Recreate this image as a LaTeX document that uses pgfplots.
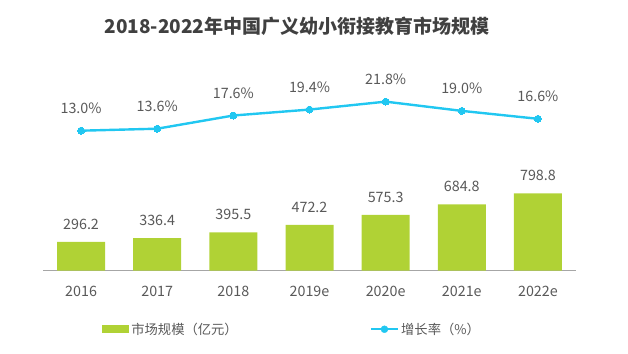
\documentclass[border=0pt]{standalone}
\usepackage{pgfplots}
\pgfplotsset{compat=1.18}
\usepackage{fontspec}
\setmainfont{Noto Sans CJK SC}
\definecolor{bargreen}{HTML}{B0D235}
\definecolor{linecyan}{HTML}{21C7F1}
\definecolor{txt}{HTML}{595959}
\definecolor{titlec}{HTML}{404040}
\definecolor{basec}{HTML}{A6A6A6}
\begin{document}
\begin{tikzpicture}[x=1pt,y=1pt]
\useasboundingbox (0,0) rectangle (628,353);
\node[font=\fontsize{19}{22}\selectfont\bfseries, text=titlec] at (297,327) {2018-2022年中国广义幼小衔接教育市场规模};
\begin{axis}[
  at={(43pt,82.3pt)}, anchor=south west,
  scale only axis, width=533pt, height=190.7pt,
  xmin=-0.5, xmax=6.5, ymin=0, ymax=1968,
  axis x line*=bottom, axis y line=none,
  x axis line style={draw=basec, line width=1pt, -},
  xtick={0,1,2,3,4,5,6},
  xticklabels={2016,2017,2018,2019e,2020e,2021e,2022e},
  major tick length=0pt,
  xticklabel style={font=\fontsize{14.3}{17}\selectfont, text=txt, anchor=base, yshift=-25.3pt},
  clip=false,
  /pgf/number format/assume math mode=true,
  legend columns=2,
  legend style={at={(rel axis cs:0.111,-0.307)}, anchor=west, draw=none, fill=none, inner sep=0pt,
    font=\fontsize{13.3}{16}\selectfont, text=txt,
    /tikz/every even column/.append style={column sep=130pt}},
]
\addplot[ybar, bar width=48pt, fill=bargreen, draw=none,
  nodes near coords={\pgfmathprintnumber[fixed,fixed zerofill,precision=1]{\pgfplotspointmeta}},
  every node near coord/.append style={font=\fontsize{14.3}{17}\selectfont, text=txt, inner sep=0pt, anchor=south, yshift=12pt},
  legend image code/.code={\fill[bargreen] (0pt,-4pt) rectangle (27pt,4pt);}]
  coordinates {(0,296.2) (1,336.4) (2,395.5) (3,472.2) (4,575.3) (5,684.8) (6,798.8)};
\addlegendentry{市场规模（亿元）}
\addlegendimage{legend image code/.code={\draw[linecyan, line width=2.4pt] (0pt,0pt) -- (27pt,0pt); \fill[linecyan] (13.5pt,0pt) circle (3.5pt);}}
\addlegendentry{增长率（\%）}
\end{axis}
\begin{axis}[
  at={(43pt,82.3pt)}, anchor=south west,
  scale only axis, width=533pt, height=190.7pt,
  xmin=-0.5, xmax=6.5, ymin=-29.42, ymax=28.36,
  axis lines=none, clip=false,
  /pgf/number format/assume math mode=true,
]
\addplot[linecyan, line width=2.4pt, mark=*, mark size=3.5pt, mark options={fill=linecyan, draw=linecyan, line width=0pt},
  nodes near coords={\pgfmathprintnumber[fixed,fixed zerofill,precision=1]{\pgfplotspointmeta}\%},
  every node near coord/.append style={font=\fontsize{14.3}{17}\selectfont, text=txt, inner sep=0pt, anchor=south, yshift=17pt}]
  coordinates {(0,13.0) (1,13.6) (2,17.6) (3,19.4) (4,21.8) (5,19.0) (6,16.6)};
\end{axis}
\end{tikzpicture}
\end{document}
